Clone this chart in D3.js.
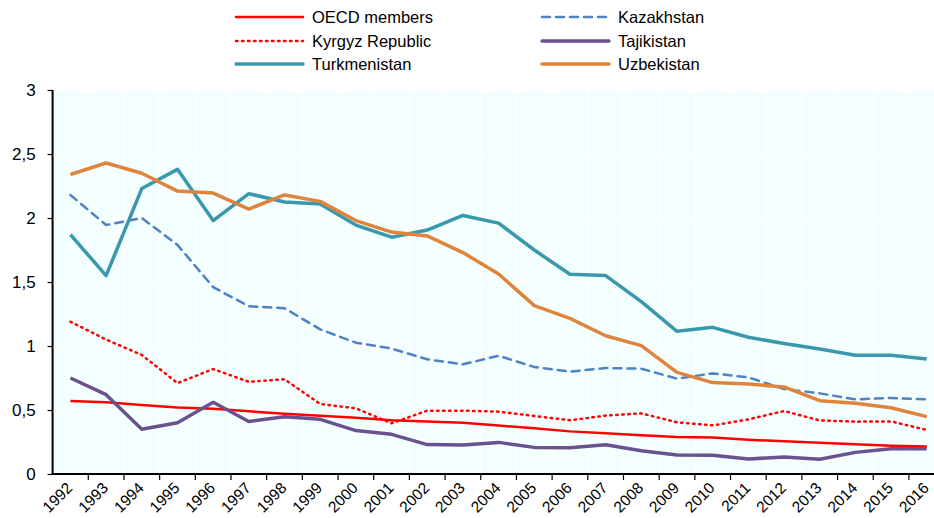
<!DOCTYPE html>
<html>
<head>
<meta charset="utf-8">
<script src="https://cdn.jsdelivr.net/npm/d3@7"></script>
<style>
  body { margin: 0; background: #fff; }
  svg { display: block; font-family: "Liberation Sans", Arial, sans-serif; }
</style>
</head>
<body>
<div id="chart"></div>
<script>
// years on the x axis
const years = ["1992","1993","1994","1995","1996","1997","1998","1999","2000","2001","2002","2003","2004",
               "2005","2006","2007","2008","2009","2010","2011","2012","2013","2014","2015","2016"];

// values
const oecd = [0.57,0.56,0.54,0.52,0.51,0.49,0.47,0.455,0.44,0.42,0.41,0.40,0.378,
              0.357,0.333,0.318,0.302,0.289,0.286,0.268,0.255,0.245,0.232,0.221,0.214];
const kazakhstan = [2.18,1.945,2.0,1.79,1.46,1.31,1.295,1.13,1.026,0.98,0.896,0.857,0.924,
                    0.836,0.80,0.828,0.823,0.745,0.786,0.755,0.664,0.63,0.583,0.594,0.583];
const kyrgyz = [1.19,1.05,0.93,0.71,0.82,0.72,0.74,0.547,0.513,0.396,0.495,0.495,0.487,
                0.453,0.42,0.456,0.474,0.404,0.38,0.427,0.492,0.419,0.409,0.411,0.344];
const tajikistan = [0.75,0.62,0.35,0.40,0.56,0.41,0.448,0.427,0.339,0.31,0.23,0.227,0.247,
                    0.208,0.206,0.229,0.182,0.148,0.146,0.117,0.133,0.115,0.169,0.198,0.198];
const turkmenistan = [1.87,1.55,2.23,2.38,1.98,2.19,2.125,2.11,1.945,1.85,1.906,2.02,1.96,
                      1.75,1.56,1.55,1.346,1.115,1.146,1.068,1.02,0.977,0.927,0.927,0.898];
const uzbekistan = [2.34,2.43,2.35,2.21,2.195,2.07,2.18,2.13,1.98,1.89,1.86,1.73,1.5625,
                    1.315,1.216,1.08,1.003,0.794,0.714,0.703,0.68,0.573,0.552,0.518,0.448];

const yTicks = [0, 0.5, 1, 1.5, 2, 2.5, 3];

const series = [
  { name: "OECD members",    values: oecd,         color: "#ff0000", width: 2.5, dash: null },
  { name: "Kazakhstan",      values: kazakhstan,   color: "#4f81c3", width: 2.5, dash: "8,6" },
  { name: "Kyrgyz Republic", values: kyrgyz,       color: "#ff0000", width: 2.5, dash: "1.5,4.5" },
  { name: "Tajikistan",      values: tajikistan,   color: "#6a5190", width: 3.5, dash: null },
  { name: "Turkmenistan",    values: turkmenistan, color: "#3a98ae", width: 3.5, dash: null },
  { name: "Uzbekistan",      values: uzbekistan,   color: "#e0843c", width: 3.5, dash: null }
];

const width = 934, height = 518;
const plotLeft = 52.6, plotTop = 90, plotBottom = 474;
const bandW = 35.68;

const svg = d3.select("#chart").append("svg")
  .attr("width", width)
  .attr("height", height);

const x = d3.scaleBand()
  .domain(years)
  .range([plotLeft, plotLeft + bandW * years.length]);

const y = d3.scaleLinear()
  .domain([0, 3])
  .range([plotBottom, plotTop]);

const plotRight = x.range()[1];

// plot background
svg.append("rect")
  .attr("x", plotLeft).attr("y", plotTop)
  .attr("width", plotRight - plotLeft)
  .attr("height", plotBottom - plotTop)
  .attr("fill", "#f3ffff");

// white gridlines
svg.append("g")
  .selectAll("line")
  .data(yTicks.slice(1))
  .enter().append("line")
  .attr("x1", plotLeft).attr("x2", plotRight)
  .attr("y1", d => y(d)).attr("y2", d => y(d))
  .attr("stroke", "#fff").attr("stroke-width", 1.5);

svg.append("g")
  .selectAll("line")
  .data(years.slice(1))
  .enter().append("line")
  .attr("x1", d => x(d)).attr("x2", d => x(d))
  .attr("y1", plotTop).attr("y2", plotBottom)
  .attr("stroke", "#fff").attr("stroke-width", 1.5);

// lines, drawn back to front like the original
const line = d3.line()
  .x((d, i) => x(years[i]) + x.bandwidth() / 2)
  .y(d => y(d));

const drawOrder = ["Kyrgyz Republic", "OECD members", "Kazakhstan", "Tajikistan", "Turkmenistan", "Uzbekistan"];
drawOrder.forEach(n => {
  const s = series.find(d => d.name === n);
  svg.append("path")
    .datum(s.values)
    .attr("d", line)
    .attr("fill", "none")
    .attr("stroke", s.color)
    .attr("stroke-width", s.width)
    .attr("stroke-linejoin", "round")
    .attr("stroke-linecap", s.dash ? "round" : "butt")
    .attr("stroke-dasharray", s.dash);
});

// y axis
const yAxis = d3.axisLeft(y)
  .tickValues(yTicks)
  .tickSize(5)
  .tickFormat(d => String(d).replace(".", ","));

const gy = svg.append("g")
  .attr("transform", `translate(${plotLeft},0)`)
  .call(yAxis);
gy.select(".domain").attr("stroke", "#000").attr("stroke-width", 2)
  .attr("d", `M0,${plotTop}V${plotBottom}`);
gy.selectAll(".tick line").attr("stroke", "#000").attr("stroke-width", 1.2);
gy.selectAll(".tick text")
  .attr("x", -17)
  .attr("dy", "0.35em")
  .style("font-size", "17px")
  .attr("fill", "#000");

// x axis with ticks between categories
const gx = svg.append("g")
  .attr("transform", `translate(0,${plotBottom})`);
gx.append("line")
  .attr("x1", plotLeft - 1).attr("x2", plotRight)
  .attr("y1", 0).attr("y2", 0)
  .attr("stroke", "#000").attr("stroke-width", 2);
gx.selectAll("line.tk")
  .data(years.slice(1))
  .enter().append("line")
  .attr("class", "tk")
  .attr("x1", d => x(d)).attr("x2", d => x(d))
  .attr("y1", 0).attr("y2", 6)
  .attr("stroke", "#000").attr("stroke-width", 1.2);
gx.selectAll("text")
  .data(years)
  .enter().append("text")
  .attr("transform", d => `translate(${x(d) + x.bandwidth() / 2 + 3},${15}) rotate(-45)`)
  .attr("text-anchor", "end")
  .style("font-size", "15.5px")
  .attr("fill", "#000")
  .text(d => d);

// legend, two columns
const legendCols = [236, 542];
const legendRows = [17, 41, 64];
const legend = svg.append("g");
series.forEach((s, i) => {
  const lx = legendCols[i % 2], ly = legendRows[Math.floor(i / 2)];
  legend.append("line")
    .attr("x1", lx).attr("x2", lx + 67)
    .attr("y1", ly).attr("y2", ly)
    .attr("stroke", s.color)
    .attr("stroke-width", s.width)
    .attr("stroke-linecap", "round")
    .attr("stroke-dasharray", s.dash);
  legend.append("text")
    .attr("x", lx + 76)
    .attr("y", ly + 6)
    .style("font-size", "16.5px")
    .attr("fill", "#000")
    .text(s.name);
});
</script>
</body>
</html>
